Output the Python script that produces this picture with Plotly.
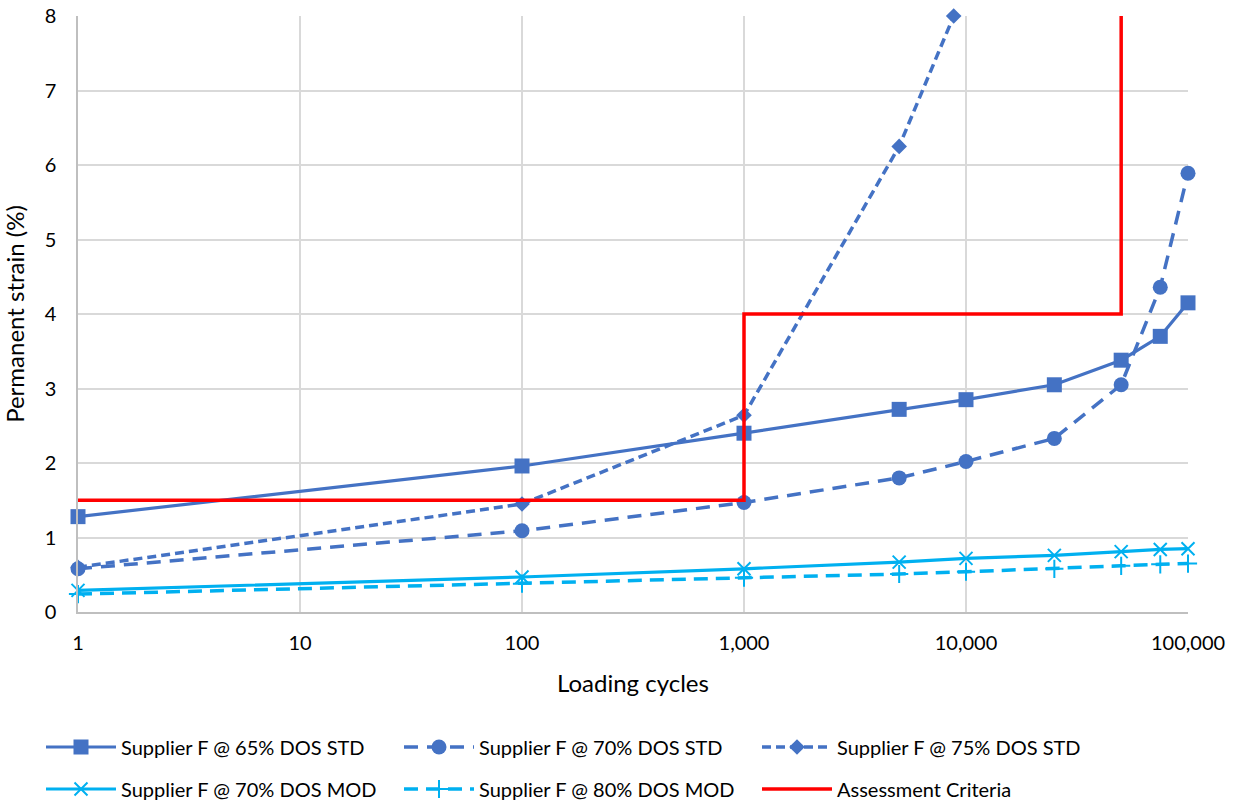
import plotly.graph_objects as go

cycles = [1, 100, 1000, 5000, 10000, 25000, 50000, 75000, 100000]
s65_std = [1.28, 1.96, 2.40, 2.72, 2.85, 3.05, 3.38, 3.70, 4.15]
s70_std = [0.58, 1.09, 1.47, 1.80, 2.02, 2.33, 3.05, 4.36, 5.89]
cycles75 = [1, 100, 1000, 5000, 8800]
s75_std = [0.60, 1.45, 2.64, 6.25, 8.00]
s70_mod = [0.29, 0.47, 0.58, 0.67, 0.72, 0.76, 0.81, 0.84, 0.85]
s80_mod = [0.24, 0.38, 0.46, 0.51, 0.54, 0.58, 0.62, 0.64, 0.65]
crit_x = [1, 1000, 1000, 50000, 50000]
crit_y = [1.5, 1.5, 4.0, 4.0, 8.0]

BLUE = "#4472C4"
LBLUE = "#00B0F0"
RED = "#FF0000"
FONT = "Lato"

fig = go.Figure()
fig.add_trace(go.Scatter(x=cycles, y=s65_std, mode="lines+markers", name="Supplier F @ 65% DOS STD",
                         line=dict(color=BLUE, width=3.2), marker=dict(symbol="square", size=15, color=BLUE),
                         cliponaxis=False, legend="legend"))
fig.add_trace(go.Scatter(x=cycles, y=s70_std, mode="lines+markers", name="Supplier F @ 70% DOS STD",
                         line=dict(color=BLUE, width=3.5, dash="14px,9px"), marker=dict(symbol="circle", size=15, color=BLUE),
                         cliponaxis=False, legend="legend"))
fig.add_trace(go.Scatter(x=cycles75, y=s75_std, mode="lines+markers", name="Supplier F @ 75% DOS STD",
                         line=dict(color=BLUE, width=3.5, dash="9px,5px"), marker=dict(symbol="diamond", size=12, color=BLUE),
                         cliponaxis=False, legend="legend"))
fig.add_trace(go.Scatter(x=cycles, y=s70_mod, mode="lines+markers", name="Supplier F @ 70% DOS MOD",
                         line=dict(color=LBLUE, width=3.2), marker=dict(symbol="x-thin", size=13, line=dict(color=LBLUE, width=2)),
                         cliponaxis=False, legend="legend2"))
fig.add_trace(go.Scatter(x=cycles, y=s80_mod, mode="lines+markers", name="Supplier F @ 80% DOS MOD",
                         line=dict(color=LBLUE, width=3.5, dash="14px,8px"), marker=dict(symbol="cross-thin", size=13, line=dict(color=LBLUE, width=2)),
                         cliponaxis=False, legend="legend2"))
fig.add_trace(go.Scatter(x=crit_x, y=crit_y, mode="lines", name="Assessment Criteria",
                         line=dict(color=RED, width=3.5), legend="legend2"))

leg_common = dict(orientation="h", xref="container", x=41 / 1242, xanchor="left",
                  yref="container", yanchor="middle",
                  entrywidth=273, entrywidthmode="pixels", font=dict(size=20, family=FONT),
                  itemwidth=70, bgcolor="rgba(0,0,0,0)")

fig.update_layout(
    width=1242, height=807,
    margin=dict(l=78, r=54, t=16, b=195, autoexpand=False),
    paper_bgcolor="white", plot_bgcolor="white",
    font=dict(family=FONT, size=20, color="black"),
    xaxis=dict(type="log", range=[0, 5], tickvals=[1, 10, 100, 1000, 10000, 100000],
               ticktext=["1", "10", "100", "1,000", "10,000", "100,000"],
               showgrid=True, gridcolor="#D9D9D9", gridwidth=1.5,
               showline=True, linecolor="#BFBFBF", linewidth=1.5,
               zeroline=False, ticks="", ticklabelstandoff=12,
               title=dict(text="Loading cycles", standoff=22)),
    yaxis=dict(range=[0, 8], dtick=1, showgrid=True, gridcolor="#D9D9D9", gridwidth=1.5,
               showline=True, linecolor="#BFBFBF", linewidth=1.5, zeroline=False,
               ticks="", ticklabelstandoff=16,
               title=dict(text="Permanent strain (%)", standoff=14)),
    legend=dict(leg_common, y=1 - 747 / 807),
    legend2=dict(leg_common, y=1 - 789 / 807),
    showlegend=True,
)

fig.write_html("out.html")
